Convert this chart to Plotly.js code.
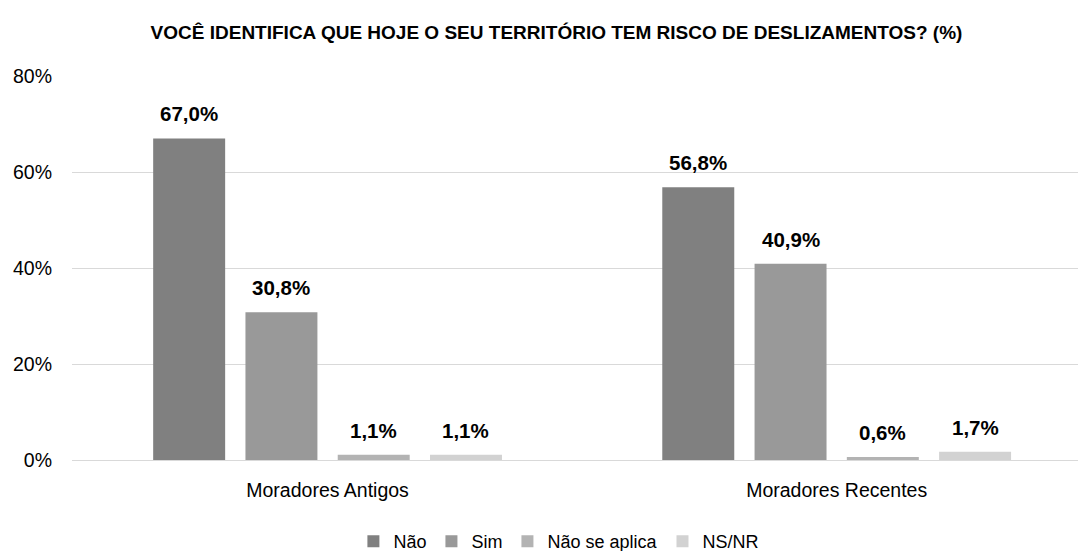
<!DOCTYPE html>
<html>
<head>
<meta charset="utf-8">
<script src="https://cdn.plot.ly/plotly-3.0.1.min.js"></script>
<style>
html,body{margin:0;padding:0;background:#fff;overflow:hidden;}
#chart{width:1078px;height:560px;}
</style>
</head>
<body>
<div id="chart"></div>
<script>
const categories = ['Moradores Antigos', 'Moradores Recentes'];
const seriesNames = ['Não', 'Sim', 'Não se aplica', 'NS/NR'];
const nao = [67.0, 56.8];
const sim = [30.8, 40.9];
const naoSeAplica = [1.1, 0.6];
const nsnr = [1.1, 1.7];
const yTickVals = [0, 20, 40, 60, 80];
const yTickText = ['0%', '20%', '40%', '60%', '80%'];

const seriesValues = [nao, sim, naoSeAplica, nsnr];
const colors = ['#808080', '#999999', '#b3b3b3', '#d2d2d2'];
const FONT = '"Liberation Sans", Arial, sans-serif';
const bargap = 0.275;
const bargroupgap = 0.22;

const traces = seriesValues.map((vals, i) => ({
  type: 'bar',
  name: seriesNames[i],
  x: categories,
  y: vals,
  marker: {color: colors[i]},
  hoverinfo: 'skip'
}));

const n = seriesValues.length;
const slot = (1 - bargap) / n;
const annotations = [];
seriesValues.forEach((vals, i) => {
  vals.forEach((v, j) => {
    annotations.push({
      xref: 'x', yref: 'y',
      x: j + (i - (n - 1) / 2) * slot,
      y: v,
      text: v.toFixed(1).replace('.', ',') + '%',
      showarrow: false,
      yanchor: 'bottom',
      yshift: 11,
      font: {family: FONT, size: 20.5, color: '#000000', weight: 'bold'}
    });
  });
});

const layout = {
  width: 1078,
  height: 560,
  margin: {l: 72, r: 0, t: 76, b: 0},
  paper_bgcolor: '#ffffff',
  plot_bgcolor: '#ffffff',
  separators: ',.',
  barmode: 'group',
  bargap: bargap,
  bargroupgap: bargroupgap,
  font: {family: FONT, color: '#000000'},
  title: {
    text: '<b>VOCÊ IDENTIFICA QUE HOJE O SEU TERRITÓRIO TEM RISCO DE DESLIZAMENTOS? (%)</b>',
    font: {family: FONT, size: 19, color: '#000000'},
    x: 0.4816, xanchor: 'center', xref: 'paper',
    y: 1 - 32 / 560, yanchor: 'middle', yref: 'container'
  },
  xaxis: {
    type: 'category',
    range: [-0.502, 1.474],
    showline: true,
    linecolor: '#d9d9d9',
    linewidth: 1,
    ticks: '',
    ticklabelstandoff: 13,
    tickfont: {family: FONT, size: 19.5, color: '#000000'},
    fixedrange: true
  },
  yaxis: {
    domain: [(560 - 460) / 484, 1],
    range: [0, 80],
    tickvals: yTickVals,
    ticktext: yTickText,
    showgrid: true,
    gridcolor: '#d9d9d9',
    gridwidth: 1,
    zeroline: false,
    ticks: '',
    ticklabelstandoff: 19,
    tickfont: {family: FONT, size: 19.5, color: '#000000'},
    fixedrange: true
  },
  showlegend: true,
  legend: {
    orientation: 'h',
    x: 0.484, xanchor: 'center',
    y: 0, yanchor: 'bottom',
    font: {family: FONT, size: 18, color: '#000000'},
    itemwidth: 30,
    traceorder: 'normal',
    bgcolor: 'rgba(0,0,0,0)'
  },
  annotations: annotations
};

Plotly.newPlot('chart', traces, layout, {displayModeBar: false, staticPlot: true});
</script>
</body>
</html>
